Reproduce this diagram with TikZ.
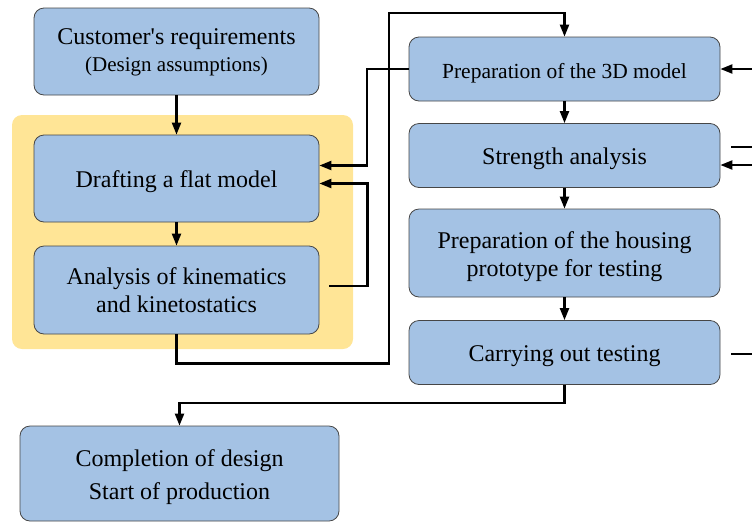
\documentclass[tikz,border=0pt]{standalone}
\usepackage{fontspec}
\setmainfont{Liberation Serif}
\usetikzlibrary{arrows.meta}
\definecolor{boxblue}{RGB}{164,194,228}
\definecolor{boxline}{RGB}{70,70,70}
\definecolor{groupyellow}{RGB}{255,229,150}
\tikzset{
  stage/.style = {draw = boxline, fill = boxblue, rounded corners = 10pt, line width = 0.8pt, align = center, inner sep = 0pt, text depth = 0pt},
  flow/.style = {line width = 2.2pt, -{Triangle[length = 12pt, width = 9pt]}},
  link/.style = {line width = 2.2pt}
}
\begin{document}
\begin{tikzpicture}[x = 1pt, y = -1pt]
\useasboundingbox (0, 0) rectangle (752, 523);
\fill [groupyellow, rounded corners = 10pt] (12, 115) rectangle (353, 349);
% left column
\node [stage, minimum width = 285pt, minimum height = 87pt, text height = 40pt, font = \fontsize{24}{27.4}\selectfont] (req) at (176.5, 51.5) {Customer\textquotesingle s requirements\\\fontsize{21}{27.4}\selectfont (Design assumptions)};
\node [stage, minimum width = 285pt, minimum height = 87pt, text height = 17pt, font = \fontsize{24}{28}\selectfont] (flat) at (176.5, 178.5) {Drafting a flat model};
\node [stage, minimum width = 285pt, minimum height = 88pt, text height = 44pt, font = \fontsize{24}{28}\selectfont] (kin) at (176.5, 290) {Analysis of kinematics\\and kinetostatics};
\node [stage, minimum width = 319pt, minimum height = 95pt, text height = 52pt, font = \fontsize{24}{33}\selectfont] (end) at (179.5, 473.5) {Completion of design\\Start of production};
% right column
\node [stage, minimum width = 311pt, minimum height = 64pt, text height = 18.6pt, font = \fontsize{21.5}{26}\selectfont] (model) at (564.5, 69) {Preparation of the 3D model};
\node [stage, minimum width = 311pt, minimum height = 64pt, text height = 18pt, font = \fontsize{24}{28}\selectfont] (strength) at (564.5, 155.5) {Strength analysis};
\node [stage, minimum width = 311pt, minimum height = 88pt, text height = 47pt, font = \fontsize{24}{28.5}\selectfont] (proto) at (564.5, 253) {Preparation of the housing\\prototype for testing};
\node [stage, minimum width = 311pt, minimum height = 64pt, text height = 17pt, font = \fontsize{24}{28}\selectfont] (test) at (564.5, 352.5) {Carrying out testing};
% loose ends on the right
\coordinate (inmodel) at (752, 69);
\coordinate (outstrength) at (752, 147);
\coordinate (instrength) at (752, 165);
\coordinate (outtest) at (752, 354);
% connectors
\draw [flow] (req) -- (flat);
\draw [flow] (flat) -- (kin);
\draw [flow] (model.west) -- ++(-42, 0) |- ([yshift = 13pt] flat.east);
\draw [flow] ([xshift = 10pt, yshift = 4pt] kin.east) -- ++(38, 0) |- ([yshift = -5pt] flat.east);
\draw [flow] (kin.south) -- ++(0, 29) -| (389, 13) -| (model.north);
\draw [flow] (model) -- (strength);
\draw [flow] (strength) -- (proto);
\draw [flow] (proto) -- (test);
\draw [flow] (test.south) -- ++(0, 18) -| (end.north);
\draw [flow] (inmodel) -- (model.east);
\draw [link] ([xshift = 11pt] strength.east |- outstrength) -- (outstrength);
\draw [flow] (instrength) -- (strength.east |- instrength);
\draw [link] ([xshift = 11pt] test.east |- outtest) -- (outtest);
\end{tikzpicture}
\end{document}
